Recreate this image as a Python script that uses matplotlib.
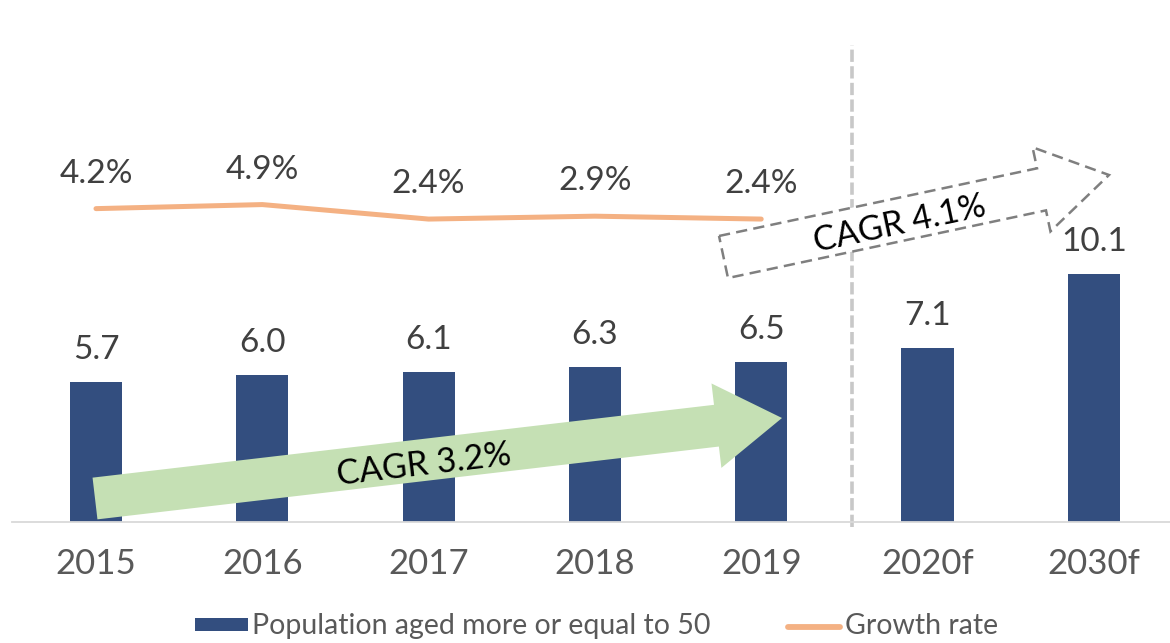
import numpy as np
import matplotlib
matplotlib.use("Agg")
import matplotlib.pyplot as plt
from matplotlib.patches import Polygon, Rectangle
from matplotlib.lines import Line2D

# ---- data ----
categories = ["2015", "2016", "2017", "2018", "2019", "2020f", "2030f"]
population = [5.7, 6.0, 6.1, 6.3, 6.5, 7.1, 10.1]
growth_years = ["2015", "2016", "2017", "2018", "2019"]
growth_rate = [4.2, 4.9, 2.4, 2.9, 2.4]
cagr_hist = "CAGR 3.2%"
cagr_fcst = "CAGR 4.1%"
legend_labels = ["Population aged more or equal to 50", "Growth rate"]

plt.rcParams['font.family'] = ['Lato', 'DejaVu Sans']

W, H = 1170, 643
fig = plt.figure(figsize=(W / 100, H / 100), dpi=100)

def fx(x):
    return x / W

def fy(y):
    return 1 - y / H

ax_left, ax_right, ax_top, ax_bot = 12, 1170, 30, 522
ax = fig.add_axes([fx(ax_left), fy(ax_bot), fx(ax_right - ax_left), (ax_bot - ax_top) / H])
ax2 = ax.twinx()

x = np.arange(len(categories))
bar_color = "#334E7F"
line_color = "#F4B183"
ax.bar(x, population, width=0.313, color=bar_color, zorder=2)
ax.set_xlim(-0.505, 6.458)
ax.set_ylim(0, 20.04)
for xi, v in zip(x, population):
    ax.annotate(f"{v:.1f}", (xi, v), xytext=(0, 23), textcoords="offset points",
                ha="center", va="center", fontsize=24, color="#404040")

ax.set_xticks(x)
ax.set_xticklabels(categories, fontsize=25, color="#595959")
ax.tick_params(axis="x", length=0, pad=19)
ax.set_yticks([])
for s in ["top", "right", "left"]:
    ax.spines[s].set_visible(False)
ax.spines["bottom"].set_color("#D9D9D9")
ax.spines["bottom"].set_linewidth(1.3)

# growth line on secondary axis
gx = [categories.index(c) for c in growth_years]
ax2.plot(gx, growth_rate, color=line_color, lw=3.6, solid_capstyle="round", zorder=3)
ax2.set_ylim(-49.83, 35.0)
ax2.set_yticks([])
for s in ["top", "right", "left", "bottom"]:
    ax2.spines[s].set_visible(False)
for xi, v in zip(gx, growth_rate):
    ax2.annotate(f"{v:.1f}%", (xi, v), xytext=(0, 25), textcoords="offset points",
                 ha="center", va="center", fontsize=24, color="#404040")

# vertical dashed separator
ax.plot([4.546, 4.546], [-0.2, 19.43], color="#C8C8C8", lw=2.6,
        dashes=(3.4, 1.2), clip_on=False, zorder=1)

# ---- arrows (pixel geometry -> figure coords) ----
def arrow_poly(tail, tip, shaft_w, head_w, head_l):
    tail = np.array(tail, float)
    tip = np.array(tip, float)
    d = tip - tail
    u = d / np.linalg.norm(d)
    n = np.array([u[1], -u[0]])
    base = tip - u * head_l
    pts = [tail + n * shaft_w / 2, base + n * shaft_w / 2, base + n * head_w / 2, tip,
           base - n * head_w / 2, base - n * shaft_w / 2, tail - n * shaft_w / 2]
    return [(fx(p[0]), fy(p[1])) for p in pts]

green = Polygon(arrow_poly((95, 498.5), (782, 418), 42, 85, 66), closed=True,
                transform=fig.transFigure, facecolor="#C5E0B4", edgecolor="none", zorder=5)
fig.patches.append(green)
fig.text(fx(424), fy(465), cagr_hist, rotation=6.7, ha="center", va="center",
         fontsize=24.5, color="black", rotation_mode="anchor", zorder=6)

dashed = Polygon(arrow_poly((723.5, 257), (1109, 175), 43, 86, 69), closed=True,
                 transform=fig.transFigure, facecolor="white", edgecolor="#7F7F7F",
                 lw=1.8, linestyle=(0, (4.5, 2.5)), zorder=5)
fig.patches.append(dashed)
fig.text(fx(900), fy(224), cagr_fcst, rotation=12, ha="center", va="center",
         fontsize=24.5, color="black", rotation_mode="anchor", zorder=6)

# ---- legend (manual placement) ----
fig.patches.append(Rectangle((fx(195), fy(631)), fx(53), 13 / H, transform=fig.transFigure,
                             facecolor=bar_color, edgecolor="none"))
fig.text(fx(252), fy(626), legend_labels[0], ha="left", va="center",
         fontsize=20.5, color="#595959")
fig.lines.append(Line2D([fx(788), fx(840)], [fy(627), fy(627)], transform=fig.transFigure,
                        color=line_color, lw=4.2, solid_capstyle="round"))
fig.text(fx(845), fy(626), legend_labels[1], ha="left", va="center",
         fontsize=20.5, color="#595959")

fig.savefig("out.png", dpi=100)
